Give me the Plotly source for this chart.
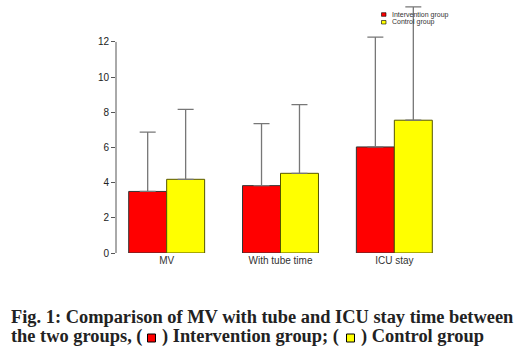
import plotly.graph_objects as go

categories = ["MV", "With tube time", "ICU stay"]
intervention_mean = [3.5, 3.83, 6.03]
intervention_sd = [3.37, 3.53, 6.24]
control_mean = [4.19, 4.53, 7.55]
control_sd = [3.98, 3.91, 6.44]
y_ticks = [0, 2, 4, 6, 8, 10, 12]
legend_names = ["Intervention group", "Control group"]

W, H = 522, 358
L, R, T, B = 116, 77, 5, 105
PW, PH = W - L - R, H - T - B
YMAX = 14.1

def px(x):
    return (x - L) / PW

def py(y):
    return (H - B - y) / PH

err_style = dict(type="data", symmetric=False, color="#777777", thickness=1.3, width=8)

fig = go.Figure()
fig.add_trace(go.Bar(
    x=categories, y=intervention_mean, name=legend_names[0],
    marker=dict(color="#ff0000", line=dict(color="#333333", width=1)),
    error_y=dict(array=intervention_sd, arrayminus=[0] * 3, **err_style),
    showlegend=False, hoverinfo="skip"))
fig.add_trace(go.Bar(
    x=categories, y=control_mean, name=legend_names[1],
    marker=dict(color="#ffff00", line=dict(color="#555500", width=1)),
    error_y=dict(array=control_sd, arrayminus=[0] * 3, **err_style),
    showlegend=False, hoverinfo="skip"))

shapes = [
    dict(type="line", xref="paper", yref="y", x0=0, x1=0, y0=0, y1=12,
         line=dict(color="#555555", width=1)),
    # legend keys
    dict(type="rect", xref="paper", yref="paper", x0=px(381.5), x1=px(386), y0=py(12.7), y1=py(16.3),
         fillcolor="#ff0000", line=dict(color="#000000", width=0.6)),
    dict(type="rect", xref="paper", yref="paper", x0=px(381.5), x1=px(386), y0=py(20.5), y1=py(24),
         fillcolor="#ffff00", line=dict(color="#000000", width=0.6)),
    # caption squares
    dict(type="rect", xref="paper", yref="paper", x0=px(147.5), x1=px(155.5), y0=py(334), y1=py(342),
         fillcolor="#ff0000", line=dict(color="#000000", width=1)),
    dict(type="rect", xref="paper", yref="paper", x0=px(346.5), x1=px(354.5), y0=py(334), y1=py(342),
         fillcolor="#ffff00", line=dict(color="#000000", width=1)),
]

cap_font = dict(family="Liberation Serif, Times New Roman", size=18.4, color="#222222")
small_font = dict(family="Liberation Sans, Arial", size=7, color="#333333")

def ann(text, x, y, font):
    return dict(text=text, x=px(x), y=py(y), xref="paper", yref="paper",
                xanchor="left", yanchor="middle", showarrow=False, font=font)

annotations = [
    ann(legend_names[0], 390, 14.6, small_font),
    ann(legend_names[1], 390, 22.3, small_font),
    ann("<b>Fig. 1: Comparison of MV with tube and ICU stay time between</b>", 9, 317, cap_font),
    ann("<b>the two groups, (</b>", 9, 336, cap_font),
    ann("<b>) Intervention group; (</b>", 160, 336, cap_font),
    ann("<b>) Control group</b>", 358.5, 336, cap_font),
]

fig.update_layout(
    width=W, height=H,
    margin=dict(l=L, r=R, t=T, b=B, pad=0),
    paper_bgcolor="white", plot_bgcolor="white",
    barmode="group", bargap=0.333, bargroupgap=0,
    shapes=shapes, annotations=annotations,
    xaxis=dict(range=[-0.445, 2.445], showline=False, showgrid=False, zeroline=False,
               ticks="", tickfont=dict(family="Liberation Sans, Arial", size=10, color="#333333")),
    yaxis=dict(range=[0, YMAX], tickvals=y_ticks, showline=False, showgrid=False, zeroline=False,
               ticks="outside", ticklen=4, tickcolor="#555555", tickwidth=1,
               tickfont=dict(family="Liberation Sans, Arial", size=10, color="#222222")),
)

fig.write_html("out.html", config={"displayModeBar": False},
               post_script="document.body.style.margin='0';document.body.style.padding='0';")
